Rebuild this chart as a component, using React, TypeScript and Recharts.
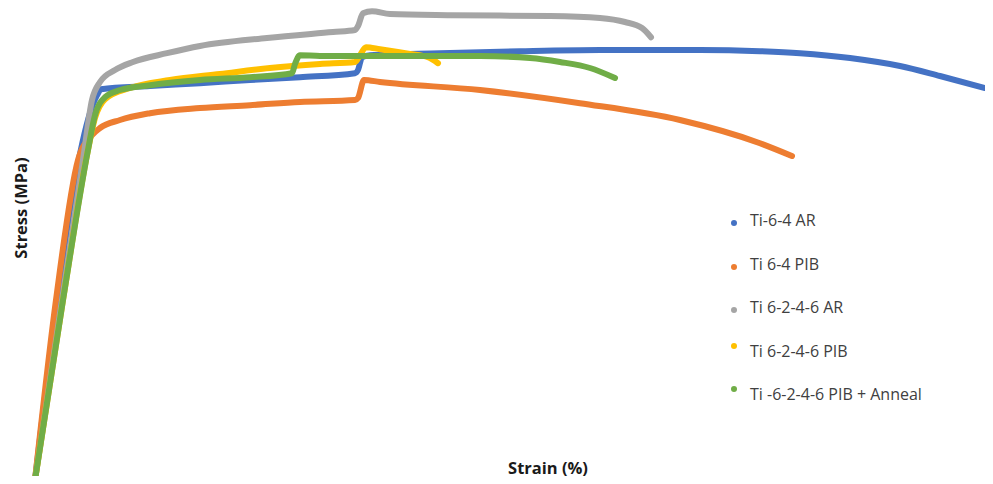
import React from 'react';
import { LineChart, Line, XAxis, YAxis } from 'recharts';

// strain (%) vs stress (MPa)
const ti64AR = [
  { x: 0, y: 0 }, { x: 1.24, y: 962 }, { x: 1.32, y: 977 }, { x: 2.3, y: 985 },
  { x: 3.3, y: 992 }, { x: 4.3, y: 1000 }, { x: 5.3, y: 1007 }, { x: 6.4, y: 1017 },
  { x: 6.46, y: 1025 }, { x: 6.54, y: 1057 }, { x: 6.7, y: 1062 }, { x: 8.1, y: 1067 },
  { x: 9.7, y: 1072 }, { x: 11.3, y: 1075 }, { x: 13.3, y: 1075 }, { x: 14.5, y: 1072 },
  { x: 15.3, y: 1067 }, { x: 16.3, y: 1055 }, { x: 17.3, y: 1035 }, { x: 18.1, y: 1010 },
  { x: 19.0, y: 980 },
];

const ti64PIB = [
  { x: 0, y: 0 }, { x: 0.42, y: 450 }, { x: 0.86, y: 800 }, { x: 1.14, y: 862 },
  { x: 1.3, y: 880 }, { x: 1.7, y: 900 }, { x: 2.3, y: 917 }, { x: 3.3, y: 930 },
  { x: 4.3, y: 937 }, { x: 5.3, y: 945 }, { x: 6.4, y: 950 }, { x: 6.46, y: 955 },
  { x: 6.58, y: 1000 }, { x: 6.9, y: 995 }, { x: 8.9, y: 975 }, { x: 10.9, y: 942 },
  { x: 12.9, y: 900 }, { x: 14.5, y: 842 }, { x: 15.14, y: 810 },
];

const ti6246AR = [
  { x: 0, y: 0 }, { x: 0.96, y: 800 }, { x: 1.14, y: 950 }, { x: 1.3, y: 995 },
  { x: 1.6, y: 1025 }, { x: 1.96, y: 1045 }, { x: 2.64, y: 1067 }, { x: 3.3, y: 1085 },
  { x: 4.64, y: 1105 }, { x: 5.96, y: 1120 }, { x: 6.4, y: 1125 }, { x: 6.46, y: 1135 },
  { x: 6.56, y: 1167 }, { x: 6.74, y: 1172 }, { x: 7.1, y: 1165 }, { x: 8.3, y: 1162 },
  { x: 10.3, y: 1160 }, { x: 11.3, y: 1155 }, { x: 11.8, y: 1145 }, { x: 12.14, y: 1130 },
  { x: 12.32, y: 1107 },
];

const ti6246PIB = [
  { x: 0, y: 0 }, { x: 0.56, y: 450 }, { x: 1.06, y: 825 }, { x: 1.2, y: 905 },
  { x: 1.4, y: 952 }, { x: 1.9, y: 980 }, { x: 2.7, y: 1000 }, { x: 3.7, y: 1015 },
  { x: 4.7, y: 1030 }, { x: 5.7, y: 1040 }, { x: 6.4, y: 1045 }, { x: 6.5, y: 1062 },
  { x: 6.62, y: 1082 }, { x: 6.9, y: 1077 }, { x: 7.5, y: 1065 }, { x: 7.86, y: 1057 },
  { x: 8.06, y: 1042 },
];

const ti6246Anneal = [
  { x: 0, y: 0 }, { x: 0.56, y: 450 }, { x: 1.06, y: 825 }, { x: 1.2, y: 912 },
  { x: 1.4, y: 957 }, { x: 1.7, y: 975 }, { x: 2.3, y: 987 }, { x: 3.3, y: 1000 },
  { x: 4.3, y: 1007 }, { x: 5.14, y: 1017 }, { x: 5.2, y: 1040 }, { x: 5.3, y: 1062 },
  { x: 5.7, y: 1060 }, { x: 7.3, y: 1060 }, { x: 8.9, y: 1060 }, { x: 9.9, y: 1055 },
  { x: 10.5, y: 1045 }, { x: 11.1, y: 1030 }, { x: 11.6, y: 1005 },
];

const series = [
  { name: 'Ti-6-4 AR', data: ti64AR, color: '#4472c4' },
  { name: 'Ti 6-4 PIB', data: ti64PIB, color: '#ed7d31' },
  { name: 'Ti 6-2-4-6 AR', data: ti6246AR, color: '#a5a5a5' },
  { name: 'Ti 6-2-4-6 PIB', data: ti6246PIB, color: '#ffc000' },
  { name: 'Ti -6-2-4-6 PIB + Anneal', data: ti6246Anneal, color: '#70ad47' },
];

const labelStyle: React.CSSProperties = {
  position: 'absolute',
  fontFamily: '"Open Sans", sans-serif',
  fontWeight: 700,
  fontSize: 16.5,
  color: '#1a1a1a',
  whiteSpace: 'nowrap',
};

export default function App() {
  return (
    <div style={{ position: 'relative', width: 993, height: 484, margin: -8, background: '#fff' }}>
      <LineChart width={993} height={484} margin={{ top: 10, right: 3, bottom: 4, left: 35 }}>
        <XAxis type='number' dataKey='x' domain={[0, 19.1]} hide allowDuplicatedCategory={false} />
        <YAxis type='number' dataKey='y' domain={[0, 1175]} hide />
        {series.map((s) => (
          <Line
            key={s.name}
            data={s.data}
            dataKey='y'
            name={s.name}
            type='monotone'
            stroke={s.color}
            strokeWidth={6}
            strokeLinecap='round'
            strokeLinejoin='round'
            dot={false}
            isAnimationActive={false}
          />
        ))}
      </LineChart>

      <div style={{ ...labelStyle, left: 548, top: 467, transform: 'translate(-50%, -50%)' }}>Strain (%)</div>
      <div style={{ ...labelStyle, left: 20, top: 208, transform: 'translate(-50%, -50%) rotate(-90deg)' }}>
        Stress (MPa)
      </div>

      {series.map((s, i) => (
        <div
          key={s.name}
          style={{
            position: 'absolute',
            left: 731,
            top: 220 + i * 43.5,
            transform: 'translateY(-50%)',
            display: 'flex',
            alignItems: 'center',
            fontFamily: '"Open Sans", sans-serif',
            fontSize: 16,
            color: '#404040',
            whiteSpace: 'nowrap',
          }}
        >
          <span
            style={{
              width: 6,
              height: 6,
              borderRadius: 3,
              background: s.color,
              marginRight: 13,
              position: 'relative',
              top: i < 3 ? 3 : -5,
            }}
          />
          {s.name}
        </div>
      ))}
    </div>
  );
}
